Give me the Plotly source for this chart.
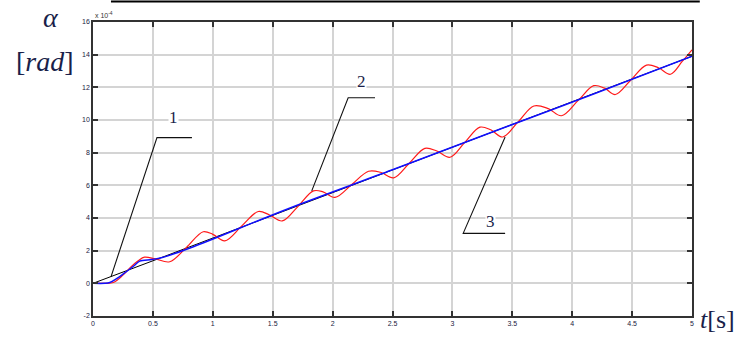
import plotly.graph_objects as go

# ---- data (values in units of 1e-4 rad) ----
ref_t = [0.0, 0.5, 5.0]
ref_y = [0.0, 1.38, 13.9]

blue_t = [0, 0.1, 0.14, 0.2, 0.25, 0.34, 0.39, 0.49, 0.57, 0.81, 1.64, 2.5, 3.4, 4.2, 5.0]
blue_y = [0, 0, 0.05, 0.3, 0.56, 1.06, 1.36, 1.46, 1.56, 2.16, 4.6, 6.95, 9.45, 11.65, 13.9]

red_t = [0, 0.1, 0.17, 0.25, 0.31, 0.38, 0.43, 0.52, 0.64, 0.78, 0.92, 1.0, 1.10, 1.24,
         1.38, 1.47, 1.58, 1.71, 1.84, 1.92, 2.02, 2.16, 2.30, 2.40, 2.51, 2.64, 2.77,
         2.87, 2.98, 3.10, 3.23, 3.32, 3.42, 3.55, 3.68, 3.80, 3.91, 4.05, 4.18, 4.27,
         4.36, 4.49, 4.62, 4.72, 4.82, 4.92, 5.0]
red_y = [0, 0, 0.05, 0.5, 0.96, 1.4, 1.6, 1.5, 1.32, 2.2, 3.16, 3.0, 2.6, 3.5,
         4.4, 4.2, 3.82, 4.7, 5.66, 5.6, 5.26, 6.05, 6.86, 6.8, 6.46, 7.35, 8.26,
         8.1, 7.72, 8.6, 9.56, 9.4, 8.96, 9.9, 10.86, 10.7, 10.26, 11.2, 12.1, 11.95,
         11.56, 12.45, 13.36, 13.2, 12.8, 13.6, 14.3]

x_ticks = [0, 0.5, 1, 1.5, 2, 2.5, 3, 3.5, 4, 4.5, 5]
x_labels = ["0", "0.5", "1", "1.5", "2", "2.5", "3", "3.5", "4", "4.5", "5"]
y_ticks = [-2, 0, 2, 4, 6, 8, 10, 12, 14, 16]
y_labels = ["-2", "0", "2", "4", "6", "8", "10", "12", "14", "16"]

# curve labels and leader lines (label, text pos, leader polyline)
labels = [
    ("1", 0.668, 10.17, [0.15, 0.534, 0.826], [0.4, 8.92, 8.92]),
    ("2", 2.245, 12.34, [1.826, 2.13, 2.354], [5.66, 11.36, 11.36]),
    ("3", 3.314, 3.76, [3.44, 3.09, 3.44], [8.96, 3.06, 3.06]),
]

fig = go.Figure()
fig.add_trace(go.Scatter(x=ref_t, y=ref_y, mode="lines",
                         line=dict(color="#000000", width=1.0), showlegend=False))
fig.add_trace(go.Scatter(x=red_t, y=red_y, mode="lines", line_shape="spline",
                         line=dict(color="#ff1a1a", width=1.2), showlegend=False))
fig.add_trace(go.Scatter(x=blue_t, y=blue_y, mode="lines", line_shape="spline",
                         line=dict(color="#1010ff", width=1.5), showlegend=False))

for txt, tx, ty, lx, ly in labels:
    fig.add_trace(go.Scatter(x=lx, y=ly, mode="lines",
                             line=dict(color="#111111", width=1.1), showlegend=False,
                             hoverinfo="skip"))
    fig.add_annotation(x=tx, y=ty, xref="x", yref="y", text=txt, showarrow=False,
                       xanchor="center", yanchor="middle",
                       font=dict(family="Liberation Serif", size=17, color="#1a1f4a"),
                       bgcolor="white", borderpad=0)

axis_common = dict(
    showline=True, linecolor="#333333", linewidth=1.5, mirror="allticks",
    ticks="inside", ticklen=5, tickwidth=1.5, tickcolor="#333333",
    showgrid=True, gridcolor="#d4d4d4", gridwidth=1.5, zeroline=False,
    tickfont=dict(family="Arial", size=7, color="#1a2040"),
)
fig.update_xaxes(range=[0, 5], tickvals=x_ticks, ticktext=x_labels, **axis_common)
fig.update_yaxes(range=[-2, 16], tickvals=y_ticks, ticktext=y_labels, **axis_common)

fig.add_annotation(x=0.0, y=1.0, xref="paper", yref="paper", xanchor="left",
                   yanchor="bottom", text="x 10<sup>-4</sup>", showarrow=False,
                   font=dict(family="Arial", size=7, color="#333333"), yshift=1)
fig.add_annotation(x=-0.07, y=1.017, xref="paper", yref="paper", text="<i>α</i>",
                   xanchor="center", yanchor="middle",
                   showarrow=False, font=dict(family="Liberation Serif", size=28,
                                               color="#1a1f4a"))
fig.add_annotation(x=-0.08, y=0.865, xref="paper", yref="paper",
                   text="[<i>rad</i>]", showarrow=False,
                   xanchor="center", yanchor="middle",
                   font=dict(family="Liberation Serif", size=28, color="#1a1f4a"))
fig.add_annotation(x=1.043, y=-0.013, xref="paper", yref="paper",
                   text="<i>t</i>[s]", showarrow=False,
                   xanchor="center", yanchor="middle",
                   font=dict(family="Liberation Serif", size=26, color="#1a1f4a"))
# decorative line at top edge of the image
fig.add_shape(type="line", xref="paper", yref="paper", x0=0.03, x1=1.013,
              y0=1.07, y1=1.07, line=dict(color="black", width=2))

fig.update_layout(width=746, height=339, margin=dict(l=93, r=54, t=22, b=17),
                  plot_bgcolor="white", paper_bgcolor="white")
fig.write_html("out.html")
